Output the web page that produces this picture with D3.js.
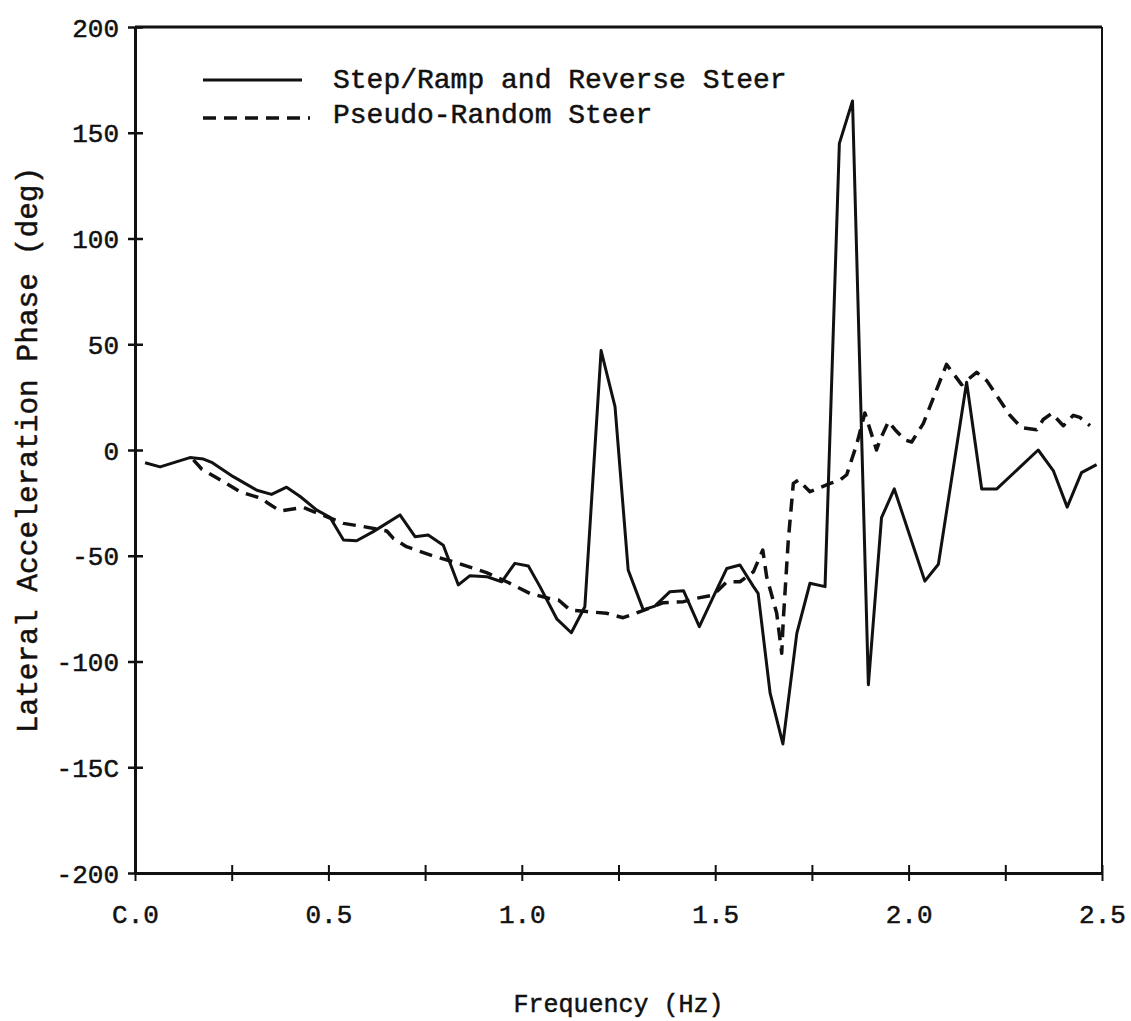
<!DOCTYPE html>
<html>
<head>
<meta charset="utf-8">
<script src="https://cdn.jsdelivr.net/npm/d3@7"></script>
<style>
  html, body { margin: 0; padding: 0; background: #fff; }
  svg { display: block; }
  text { font-family: "Liberation Mono", "Courier New", monospace; fill: #111; }
</style>
</head>
<body>
<svg id="chart" width="1131" height="1021"></svg>
<script>
// ---- Data ----
const stepFreq = [0.026,0.065,0.142,0.177,0.200,0.254,0.315,0.353,0.392,0.427,0.470,0.504,0.539,0.573,0.616,0.685,0.724,0.758,0.797,0.836,0.866,0.909,0.948,0.982,1.017,1.047,1.091,1.128,1.163,1.205,1.241,1.275,1.314,1.344,1.383,1.418,1.459,1.495,1.530,1.564,1.599,1.611,1.642,1.675,1.711,1.745,1.784,1.821,1.855,1.896,1.930,1.963,2.042,2.077,2.150,2.189,2.228,2.335,2.374,2.410,2.447,2.486];
const stepPhase = [-6,-8,-3.6,-4.3,-6,-12.6,-19,-21,-17.6,-22,-28.4,-31.8,-42.6,-42.9,-38.6,-30.7,-41,-40.2,-45,-63.8,-59.4,-59.9,-62.3,-53.6,-54.8,-64.6,-80,-86.4,-74.1,47,20.5,-56.7,-75.6,-73.8,-67,-66.5,-83.5,-69.4,-56,-54.4,-64.6,-67.8,-115,-139,-86.7,-63,-64.6,145,165,-111,-32,-18.4,-62,-54,32,-18.4,-18.4,0,-9.7,-27,-10.7,-6.9];

const pseudoFreq = [0.151,0.173,0.211,0.271,0.327,0.344,0.375,0.435,0.452,0.539,0.590,0.651,0.668,0.702,0.771,0.831,0.909,0.961,1.021,1.069,1.095,1.125,1.168,1.219,1.262,1.306,1.366,1.418,1.452,1.495,1.530,1.564,1.599,1.623,1.633,1.659,1.672,1.676,1.689,1.702,1.715,1.745,1.797,1.823,1.840,1.866,1.887,1.917,1.926,1.948,1.965,1.991,2.008,2.038,2.098,2.137,2.176,2.202,2.262,2.292,2.331,2.348,2.370,2.400,2.426,2.443,2.469];
const pseudoPhase = [-4.7,-9.1,-13.1,-19.7,-22.9,-25.2,-28.8,-27.1,-28.4,-34.7,-36.2,-38.3,-41.8,-45.7,-50.1,-53.3,-58,-62.3,-67.8,-70.1,-70.9,-75.7,-76.4,-77.2,-79.3,-76.4,-72.2,-71.7,-70.1,-68.6,-62.3,-62.3,-57.5,-47.3,-59.9,-77.2,-96.1,-80.4,-42.6,-15.8,-14.2,-19.7,-15.8,-14.2,-11.7,2.8,17.5,0,4.7,13.5,9.6,4.7,3.8,12.5,40.5,30.9,36.7,32.8,16.4,10.5,9.6,14.4,17.3,11.5,16.4,15.4,11.5];

const xTickValues = [0,0.25,0.5,0.75,1.0,1.25,1.5,1.75,2.0,2.25,2.5];
const xTickLabels = {0:"C.0",0.5:"0.5",1:"1.0",1.5:"1.5",2:"2.0",2.5:"2.5"};
const yTickValues = [200,150,100,50,0,-50,-100,-150,-200];
const yTickLabels = ["200","150","100","50","0","-50","-100","-15C","-200"];

const seriesNames = ["Step/Ramp and Reverse Steer","Pseudo-Random Steer"];
const xTitle = "Frequency (Hz)";
const yTitle = "Lateral Acceleration Phase (deg)";

// ---- Layout ----
const svg = d3.select("#chart");
const pLeft = 135, pRight = 1102, pTop = 27, pBottom = 873;
const x = d3.scaleLinear().domain([0, 2.5]).range([pLeft, pRight]);
const y = d3.scaleLinear().domain([-200, 200]).range([pBottom, pTop]);
const ink = "#111";

// frame (top and right)
svg.append("line").attr("x1", x(0)).attr("x2", x(2.5)).attr("y1", y(200)).attr("y2", y(200))
  .attr("stroke", ink).attr("stroke-width", 3);
svg.append("line").attr("x1", x(2.5)).attr("x2", x(2.5)).attr("y1", y(200)).attr("y2", y(-200))
  .attr("stroke", ink).attr("stroke-width", 2);

// x axis
const xAxis = svg.append("g").attr("transform", `translate(0,${y(-200)})`)
  .call(d3.axisBottom(x).tickValues(xTickValues).tickSize(0)
    .tickFormat(d => xTickLabels[d] !== undefined ? xTickLabels[d] : ""));
xAxis.select(".domain").attr("stroke", ink).attr("stroke-width", 3);
xAxis.selectAll(".tick line").attr("y1", -8).attr("y2", 8).attr("stroke", ink).attr("stroke-width", 2);
xAxis.selectAll(".tick text").attr("y", 50).attr("dy", 0)
  .style("font-family", '"Liberation Mono", monospace').style("font-size", "26px")
  .attr("fill", ink).attr("stroke", ink).attr("stroke-width", 0.5);

// y axis
const yAxis = svg.append("g").attr("transform", `translate(${x(0)},0)`)
  .call(d3.axisLeft(y).tickValues(yTickValues).tickSize(0)
    .tickFormat((d, i) => yTickLabels[i]));
yAxis.select(".domain").attr("stroke", ink).attr("stroke-width", 3);
yAxis.selectAll(".tick line").attr("x1", -7).attr("x2", 8).attr("stroke", ink).attr("stroke-width", 2.5);
yAxis.selectAll(".tick text").attr("x", -16).attr("dy", 9)
  .style("font-family", '"Liberation Mono", monospace').style("font-size", "26px")
  .attr("fill", ink).attr("stroke", ink).attr("stroke-width", 0.5);

// titles
svg.append("text").attr("x", (pLeft + pRight) / 2).attr("y", 1012)
  .attr("text-anchor", "middle").style("font-size", "25px")
  .attr("stroke", ink).attr("stroke-width", 0.5).text(xTitle);
svg.append("text").attr("transform", `translate(37,${(pTop + pBottom) / 2}) rotate(-90)`)
  .attr("text-anchor", "middle").style("font-size", "29.5px")
  .attr("stroke", ink).attr("stroke-width", 0.5).text(yTitle);

// series lines
const line = d3.line().x(d => x(d[0])).y(d => y(d[1]));
const stepData = stepFreq.map((f, i) => [f, stepPhase[i]]);
const pseudoData = pseudoFreq.map((f, i) => [f, pseudoPhase[i]]);

svg.append("path").datum(pseudoData).attr("d", line)
  .attr("fill", "none").attr("stroke", ink).attr("stroke-width", 3.5)
  .attr("stroke-dasharray", "13,8").attr("stroke-linejoin", "round");
svg.append("path").datum(stepData).attr("d", line)
  .attr("fill", "none").attr("stroke", ink).attr("stroke-width", 3)
  .attr("stroke-linejoin", "round");

// legend
const lg = svg.append("g").attr("transform", `translate(${pLeft + 68},80)`);
lg.append("line").attr("x1", 0).attr("x2", 99).attr("y1", 0).attr("y2", 0)
  .attr("stroke", ink).attr("stroke-width", 3);
lg.append("line").attr("x1", 0).attr("x2", 107).attr("y1", 38).attr("y2", 38)
  .attr("stroke", ink).attr("stroke-width", 3.5).attr("stroke-dasharray", "13,8");
lg.append("text").attr("x", 130).attr("y", 8).style("font-size", "28px")
  .attr("stroke", ink).attr("stroke-width", 0.5).text(seriesNames[0]);
lg.append("text").attr("x", 130).attr("y", 43).style("font-size", "28px")
  .attr("stroke", ink).attr("stroke-width", 0.5).text(seriesNames[1]);
</script>
</body>
</html>
